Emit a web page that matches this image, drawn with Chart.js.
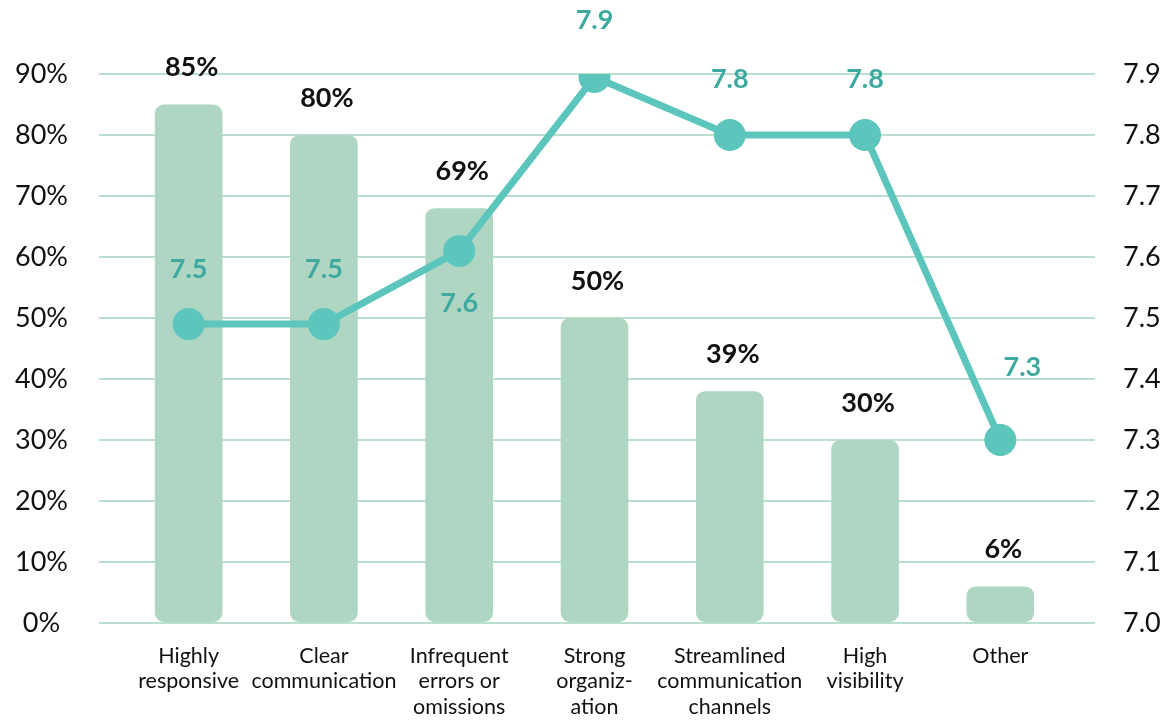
<!DOCTYPE html>
<html>
<head>
<meta charset="utf-8">
<script src="https://cdn.jsdelivr.net/npm/chart.js@4/dist/chart.umd.min.js"></script>
<style>
html,body{margin:0;padding:0;background:#fff;}
#wrap{width:1168px;height:720px;position:relative;}
</style>
</head>
<body>
<div id="wrap"><canvas id="c" width="1168" height="720"></canvas></div>
<script>
const categories = [
  ["Highly","responsive"],
  ["Clear","communication"],
  ["Infrequent","errors or","omissions"],
  ["Strong","organiz-","ation"],
  ["Streamlined","communication","channels"],
  ["High","visibility"],
  ["Other"]
];
const sharePercent = [85, 80, 68, 50, 38, 30, 6];
const shareLabels = ["85%", "80%", "69%", "50%", "39%", "30%", "6%"];
const ratingValues = [7.49, 7.49, 7.61, 7.895, 7.8, 7.8, 7.3];
const ratingLabels = ["7.5", "7.5", "7.6", "7.9", "7.8", "7.8", "7.3"];
const leftTicks = [0, 10, 20, 30, 40, 50, 60, 70, 80, 90];
const rightTicks = [7.0, 7.1, 7.2, 7.3, 7.4, 7.5, 7.6, 7.7, 7.8, 7.9];
// label placement (dx, dy) for rating labels relative to points
const ratingLabelOffset = [[0,-55],[0,-55],[0,52],[0,-57],[0,-56],[0,-56],[22,-73]];

const BAR = '#aed6c3';
const GRID = '#b9dfcd';
const LINE = '#5cc6bd';
const LINE_TXT = '#3ea99f';
const FONT = 'Lato, "Open Sans", sans-serif';

const labelPlugin = {
  id: 'valueLabels',
  afterDatasetsDraw(chart) {
    const ctx = chart.ctx;
    const x = chart.scales.x, y = chart.scales.y, y1 = chart.scales.y1;
    ctx.save();
    ctx.textAlign = 'center';
    ctx.textBaseline = 'middle';
    ctx.font = 'bold 27px ' + FONT;
    ctx.fillStyle = '#111';
    sharePercent.forEach((v, i) => {
      ctx.fillText(shareLabels[i], x.getPixelForValue(i) + 3, y.getPixelForValue(v) - 37);
    });
    ctx.font = 'bold 27px ' + FONT;
    ctx.fillStyle = LINE_TXT;
    ratingValues.forEach((v, i) => {
      const o = ratingLabelOffset[i];
      ctx.fillText(ratingLabels[i], x.getPixelForValue(i) + o[0], y1.getPixelForValue(v) + o[1]);
    });
    ctx.restore();
  }
};

new Chart(document.getElementById('c'), {
  data: {
    labels: categories,
    datasets: [
      {
        type: 'line',
        data: ratingValues,
        yAxisID: 'y1',
        borderColor: LINE,
        backgroundColor: LINE,
        borderWidth: 7,
        pointRadius: 16,
        pointHoverRadius: 16,
        pointBackgroundColor: LINE,
        pointBorderWidth: 0,
        tension: 0,
        order: 0
      },
      {
        type: 'bar',
        data: sharePercent,
        yAxisID: 'y',
        backgroundColor: BAR,
        borderRadius: 9,
        borderSkipped: false,
        barPercentage: 0.5,
        categoryPercentage: 1.0,
        order: 1
      }
    ]
  },
  options: {
    responsive: false,
    animation: false,
    layout: { padding: { top: 74, left: 0, right: 0, bottom: 0 } },
    plugins: { legend: { display: false }, tooltip: { enabled: false } },
    scales: {
      x: {
        grid: { display: false },
        border: { display: false },
        ticks: {
          font: { family: FONT, size: 21.5, lineHeight: 1.19 },
          color: '#111',
          padding: 12,
          maxRotation: 0,
          autoSkip: false
        },
        afterFit(s) { s.height = 97; }
      },
      y: {
        position: 'left',
        min: 0, max: 90,
        afterBuildTicks(s) { s.ticks = leftTicks.map(v => ({ value: v })); },
        grid: { color: GRID, lineWidth: 2, tickLength: 22, tickColor: GRID },
        border: { display: false },
        ticks: {
          font: { family: FONT, size: 27 },
          color: '#111',
          crossAlign: 'center',
          padding: 31,
          callback: v => v + '%'
        },
        afterFit(s) { s.width = 121; }
      },
      y1: {
        position: 'right',
        min: 7.0, max: 7.9,
        afterBuildTicks(s) { s.ticks = rightTicks.map(v => ({ value: v })); },
        grid: { drawOnChartArea: false, color: GRID, lineWidth: 2, tickLength: 27, tickColor: GRID },
        border: { display: false },
        ticks: {
          font: { family: FONT, size: 27 },
          color: '#111',
          padding: 28,
          callback: v => Number(v).toFixed(1)
        },
        afterFit(s) { s.width = 100; }
      }
    }
  },
  plugins: [labelPlugin]
});
</script>
</body>
</html>
